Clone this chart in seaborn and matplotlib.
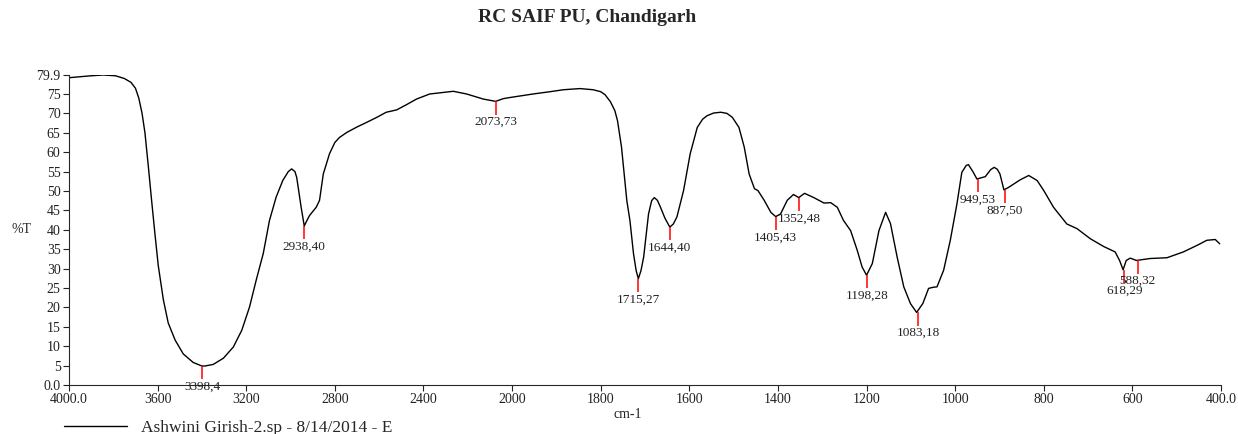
import numpy as np
import pandas as pd
import seaborn as sns
import matplotlib.pyplot as plt

# spectrum (cm-1, %T)
wavenumber = [4000, 3960, 3900, 3845, 3790, 3750, 3720, 3700, 3685, 3670, 3657, 3642, 3627, 3612,
              3597, 3574, 3552, 3521, 3484, 3439, 3400, 3386, 3349, 3303, 3258, 3220, 3185, 3155,
              3123, 3095, 3065, 3035, 3010, 2995, 2980, 2972, 2952, 2938, 2925, 2914, 2884, 2869,
              2852, 2824, 2800, 2779, 2746, 2700, 2656, 2610, 2568, 2521, 2475, 2431, 2372, 2327,
              2265, 2205, 2130, 2074, 2040, 2009, 1953, 1914, 1884, 1847, 1817, 1800, 1790, 1778,
              1768, 1762, 1753, 1741, 1734, 1726, 1720, 1715, 1709, 1703, 1692, 1685, 1679, 1672,
              1665, 1655, 1644, 1636, 1628, 1613, 1598, 1582, 1570, 1560, 1545, 1529, 1515, 1503,
              1488, 1476, 1465, 1453, 1445, 1431, 1416, 1405, 1394, 1379, 1365, 1353, 1340, 1319,
              1296, 1281, 1266, 1252, 1236, 1221, 1210, 1200, 1187, 1172, 1157, 1146, 1131, 1116,
              1101, 1087, 1073, 1060, 1049, 1041, 1026, 1011, 996, 985, 975, 970, 959, 951, 932,
              920, 912, 905, 899, 890, 880, 868, 853, 834, 815, 800, 778, 748, 725, 695, 665, 639,
              629, 621, 614, 605, 591, 560, 522, 485, 454, 432, 413, 403]
transmittance = [79.2, 79.4, 79.7, 79.9, 79.7, 79.0, 78.0, 76.5, 74.0, 70.0, 65.0, 56.5, 47.6, 39.0,
                 30.8, 22.0, 16.0, 11.6, 8.0, 5.8, 4.9, 4.9, 5.3, 6.9, 9.8, 14.1, 20.1, 27.0,
                 33.9, 42.4, 48.4, 52.7, 55.0, 55.7, 55.0, 53.5, 45.8, 41.0, 42.5, 43.7, 45.8, 47.6,
                 54.4, 59.6, 62.5, 63.8, 65.1, 66.5, 67.7, 69.0, 70.3, 70.9, 72.3, 73.7, 75.0, 75.3,
                 75.7, 75.0, 73.7, 73.1, 73.8, 74.1, 75.0, 75.6, 76.1, 76.4, 76.1, 75.6, 74.8, 73.0,
                 70.7, 68.1, 61.3, 47.5, 42.4, 33.9, 29.5, 27.4, 29.5, 33.0, 44.1, 47.5, 48.3, 47.6,
                 45.8, 43.0, 40.7, 41.5, 43.3, 50.1, 59.6, 66.4, 68.5, 69.4, 70.1, 70.3, 70.0, 69.0,
                 66.4, 61.3, 54.4, 50.6, 50.1, 47.6, 44.5, 43.4, 44.1, 47.6, 49.1, 48.3, 49.4, 48.3,
                 46.9, 47.0, 45.8, 42.4, 39.8, 34.7, 30.4, 28.3, 31.3, 39.8, 44.5, 41.6, 33.0, 25.3,
                 21.0, 18.7, 21.0, 24.9, 25.2, 25.3, 29.6, 37.3, 46.7, 54.8, 56.6, 56.8, 54.8, 53.1, 53.7,
                 55.5, 56.1, 55.6, 54.4, 50.3, 50.9, 51.8, 52.9, 54.0, 52.7, 50.1, 45.8, 41.5, 40.3, 37.7, 35.7, 34.3,
                 32.1, 29.7, 32.1, 32.7, 32.1, 32.6, 32.8, 34.3, 36.0, 37.3, 37.5, 36.4]

# picked peaks
peak_wn = [3398.4, 2938.40, 2073.73, 1715.27, 1644.40, 1405.43, 1352.48, 1198.28, 1083.18,
           949.53, 887.50, 618.29, 588.32]
peak_t = [4.9, 41.0, 73.1, 27.4, 40.7, 43.4, 48.3, 28.3, 18.7, 53.1, 50.3, 29.7, 32.1]
peak_labels = ["3398,4", "2938,40", "2073,73", "1715,27", "1644,40", "1405,43", "1352,48",
               "1198,28", "1083,18", "949,53", "887,50", "618,29", "588,32"]

x_ticks = [4000, 3600, 3200, 2800, 2400, 2000, 1800, 1600, 1400, 1200, 1000, 800, 600, 400]
x_ticklabels = ["4000.0", "3600", "3200", "2800", "2400", "2000", "1800", "1600", "1400",
                "1200", "1000", "800", "600", "400.0"]
y_ticks = [0, 5, 10, 15, 20, 25, 30, 35, 40, 45, 50, 55, 60, 65, 70, 75, 79.9]
y_ticklabels = ["0.0", "5", "10", "15", "20", "25", "30", "35", "40", "45", "50", "55", "60",
                "65", "70", "75", "79.9"]

df = pd.DataFrame({"wn": wavenumber, "T": transmittance})

sns.set_style("ticks")
plt.rcParams['font.family'] = ['Liberation Serif', 'DejaVu Serif']


# IR axis: 4000-2000 at half the scale of 2000-400
def fwd(x):
    x = np.asarray(x, dtype=float)
    return np.where(x > 2000, 2000 + (x - 2000) / 2, x)


def inv(u):
    u = np.asarray(u, dtype=float)
    return np.where(u > 2000, 2000 + 2 * (u - 2000), u)


fig = plt.figure(figsize=(12.38, 4.34), dpi=100)
ax = fig.add_axes([0.0557, 0.1129, 0.9306, 0.7143])
ax.set_xscale('function', functions=(fwd, inv))

sns.lineplot(data=df, x="wn", y="T", sort=False, estimator=None, color="black", lw=1.0,
             label="Ashwini Girish-2.sp - 8/14/2014 - E", ax=ax)

ax.vlines(peak_wn, [t - 3.4 for t in peak_t], peak_t, colors="red", lw=1.1)
for w, t, s in zip(peak_wn, peak_t, peak_labels):
    ax.text(w, t - 3.8, s, ha="center", va="top", fontsize=9.5, color="#222222")

ax.set_xlim(4000, 400)
ax.set_ylim(0, 79.9)
ax.set_xticks(x_ticks)
ax.set_xticklabels(x_ticklabels)
ax.set_yticks(y_ticks)
ax.set_yticklabels(y_ticklabels)
ax.minorticks_off()
ax.tick_params(axis="both", labelsize=10, length=4, width=0.8, colors="#222222", pad=2)
sns.despine(ax=ax)

ax.set_xlabel("cm-1", fontsize=10)
ax.xaxis.set_label_coords(0.485, -0.075)
ax.set_ylabel("%T", fontsize=10, rotation=0)
ax.yaxis.set_label_coords(-0.041, 0.48)

fig.text(587 / 1238, 1 - 18 / 434, "RC SAIF PU, Chandigarh", ha="center", va="center",
         fontsize=14, fontweight="bold")

ax.legend(loc="center left", bbox_to_anchor=(0.052, 0.014), bbox_transform=fig.transFigure,
          frameon=False, fontsize=12.5, handlelength=3.6, borderpad=0, borderaxespad=0)

plt.savefig("out.png", dpi=100)
